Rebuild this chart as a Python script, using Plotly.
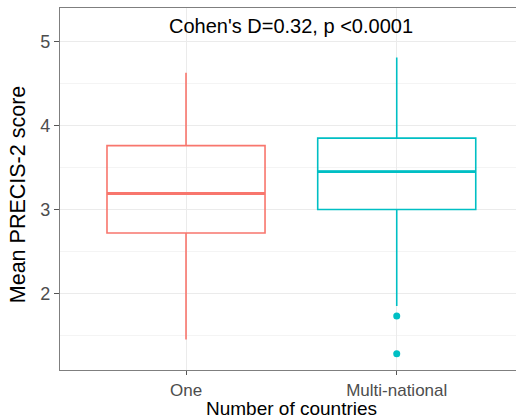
import plotly.graph_objects as go

categories = ["One", "Multi-national"]
colors = ["#F8766D", "#00BFC4"]
q1 = [2.72, 3.00]
median = [3.19, 3.45]
q3 = [3.76, 3.85]
lower_whisker = [1.45, 1.85]
upper_whisker = [4.63, 4.81]
outlier_values = [[], [1.73, 1.28]]
y_ticks = [2, 3, 4, 5]
title_text = "Cohen's D=0.32, p <0.0001"

FONT = "Liberation Sans, Arial, sans-serif"

fig = go.Figure()
for i, cat in enumerate(categories):
    fig.add_trace(go.Box(
        x=[cat], q1=[q1[i]], median=[median[i]], q3=[q3[i]],
        lowerfence=[lower_whisker[i]], upperfence=[upper_whisker[i]],
        width=0.75, whiskerwidth=0, fillcolor="rgba(255,255,255,0)",
        line=dict(color=colors[i], width=1.6), boxpoints=False,
        showlegend=False, hoverinfo="skip",
    ))
    # thicker median line (ggplot fatten)
    fig.add_trace(go.Box(
        x=[cat], q1=[median[i]], median=[median[i]], q3=[median[i]],
        lowerfence=[median[i]], upperfence=[median[i]],
        width=0.75, whiskerwidth=0, fillcolor="rgba(255,255,255,0)",
        line=dict(color=colors[i], width=2.8), boxpoints=False,
        showlegend=False, hoverinfo="skip",
    ))
    if outlier_values[i]:
        fig.add_trace(go.Scatter(
            x=[cat] * len(outlier_values[i]), y=outlier_values[i], mode="markers",
            marker=dict(color=colors[i], size=7), showlegend=False,
        ))

fig.update_layout(
    width=516, height=419,
    margin=dict(l=60, r=0, t=8, b=49),
    paper_bgcolor="white", plot_bgcolor="white",
    boxmode="overlay",
    font=dict(family=FONT, color="#4d4d4d"),
    xaxis=dict(
        type="category", categoryorder="array", categoryarray=categories,
        range=[-0.598, 1.566],
        showline=True, mirror=True, linecolor="#7f7f7f", linewidth=1.3,
        showgrid=True, gridcolor="#ebebeb", gridwidth=1,
        ticks="outside", ticklen=4, tickcolor="#555555", tickwidth=1.2,
        tickfont=dict(size=17, color="#4d4d4d", family=FONT),
        zeroline=False,
    ),
    yaxis=dict(
        range=[1.087, 5.40],
        tickvals=y_ticks,
        showline=True, mirror=False, linecolor="#7f7f7f", linewidth=1.3,
        showgrid=True, gridcolor="#ebebeb", gridwidth=1,
        ticks="outside", ticklen=5, tickcolor="#555555", tickwidth=1.2,
        tickfont=dict(size=18, color="#4d4d4d", family=FONT),
        minor=dict(tick0=1.5, dtick=1, showgrid=True, gridcolor="#f4f4f4", gridwidth=1, ticklen=0),
        zeroline=False,
    ),
    annotations=[
        dict(text=title_text, x=0.5, xref="x", y=5.18, yref="y",
             showarrow=False, font=dict(size=20, color="black", family=FONT),
             xanchor="center", yanchor="middle"),
        dict(text="Number of countries", x=0.5, xref="x", y=-0.107, yref="paper",
             showarrow=False, font=dict(size=19, color="black", family=FONT),
             xanchor="center", yanchor="middle"),
        dict(text="Mean PRECIS-2 score", x=-0.092, xref="paper", y=0.483, yref="paper",
             showarrow=False, textangle=-90, font=dict(size=21.5, color="black", family=FONT),
             xanchor="center", yanchor="middle"),
    ],
)

fig.write_html("out.html")
